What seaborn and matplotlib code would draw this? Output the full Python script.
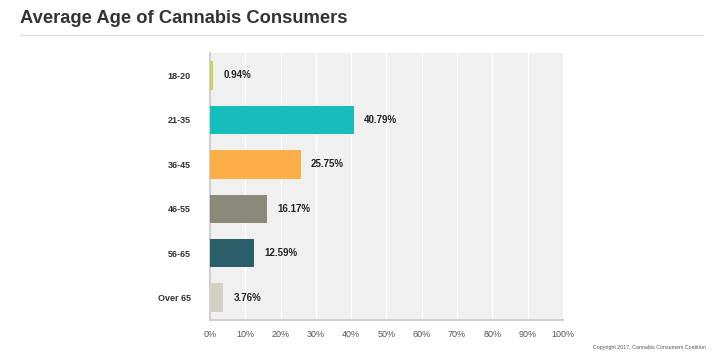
import pandas as pd
import matplotlib.pyplot as plt
import seaborn as sns

# data
ages = ['18-20', '21-35', '36-45', '46-55', '56-65', 'Over 65']
shares = [0.94, 40.79, 25.75, 16.17, 12.59, 3.76]
colors = ['#c8d35a', '#17bdbb', '#fbad47', '#8a8a7a', '#2a5f6a', '#d3d1c4']
xticks = [0, 10, 20, 30, 40, 50, 60, 70, 80, 90, 100]


def main():
    df = pd.DataFrame({'age': ages, 'share': shares})

    sns.set_style('white')
    plt.rcParams['font.family'] = ['Arial', 'Liberation Sans', 'DejaVu Sans']

    fig = plt.figure(figsize=(7.17, 3.64), dpi=100)
    ax = fig.add_axes([0.293, 0.121, 0.492, 0.733])

    sns.barplot(data=df, y='age', x='share', hue='age', palette=colors,
                order=ages, legend=False, width=0.64, ax=ax, saturation=1,
                edgecolor='none', zorder=3)

    ax.set_facecolor('#f0f0f0')
    ax.set_xlim(0, 100)
    ax.set_xticks(xticks)
    ax.set_xticklabels([f'{t}%' for t in xticks], fontsize=6.5, color='#555555')
    ax.xaxis.grid(True, color='white', linewidth=1, zorder=0)
    ax.set_xlabel('')
    ax.set_ylabel('')
    ax.tick_params(axis='y', length=0, pad=14, labelsize=6.5, labelcolor='#333333')
    ax.tick_params(axis='x', length=0, pad=7)
    for lbl in ax.get_yticklabels():
        lbl.set_fontweight('bold')

    for s in ['top', 'right']:
        ax.spines[s].set_visible(False)
    for s in ['left', 'bottom']:
        ax.spines[s].set_color('#d0d0d0')
        ax.spines[s].set_linewidth(1.5)

    # value labels
    for i, v in enumerate(shares):
        ax.text(v + 2.8, i, f'{v:.2f}%', va='center', ha='left',
                fontsize=7, fontweight='bold', color='#222222')

    # title and rule
    fig.text(0.028, 0.95, 'Average Age of Cannabis Consumers', fontsize=13.2,
             fontweight='bold', color='#333333', va='center')
    fig.add_artist(plt.Line2D([0.028, 0.98], [0.905, 0.905], color='#dddddd',
                              linewidth=1))

    fig.text(0.985, 0.045, 'Copyright 2017, Cannabis Consumers Coalition',
             fontsize=3.8, color='#555555', ha='right', va='center')

    fig.savefig('out.png', dpi=100, facecolor='white')
    plt.close(fig)


if __name__ == '__main__':
    main()
